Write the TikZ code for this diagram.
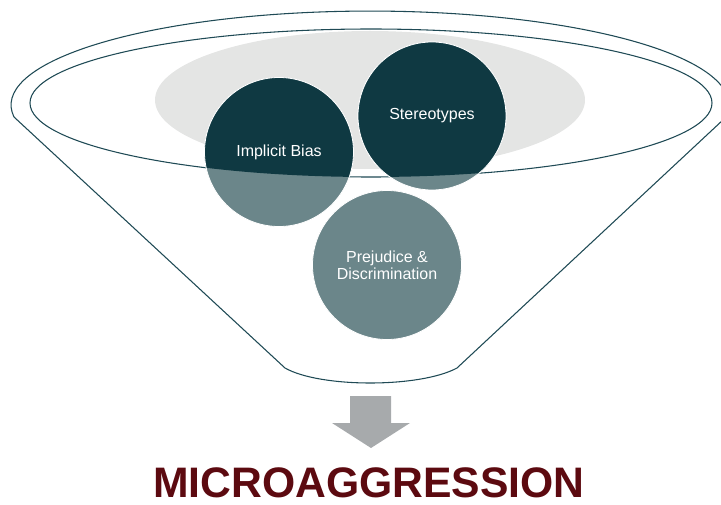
\documentclass[tikz,border=0pt]{standalone}
\usepackage{fontspec}
\setmainfont{Liberation Sans}
\usepackage{tikz}

\definecolor{rimline}{HTML}{1F4A55}
\definecolor{deepteal}{HTML}{0F3942}
\definecolor{fadeteal}{HTML}{6B868A}
\definecolor{haze}{HTML}{E4E5E4}
\definecolor{arrowgrey}{HTML}{A7AAAC}
\definecolor{wine}{HTML}{5C0A10}

\begin{document}
\begin{tikzpicture}[x=0.75pt,y=0.75pt,
    rim/.style={draw=rimline,line width=0.8pt},
    deep/.style={fill=deepteal,draw=white,line width=0.6pt},
    fade/.style={fill=fadeteal,draw=white,line width=0.6pt},
    lbl/.style={text=white,align=center,font=\fontsize{12}{13}\selectfont}]
          \useasboundingbox (0,0) rectangle (721,504);
          \coordinate (bias) at (279,352);
          \coordinate (stereo) at (432,388);
          \coordinate (prej) at (387,239);
          %% funnel
          \fill[haze] (370,404) ellipse [x radius=215, y radius=69];
          \draw[rim] (371,401) ellipse [x radius=341, y radius=74];
          \draw[rim] (14,387) arc [start angle=187.3, end angle=-7.3, x radius=359, y radius=94]
                     -- (457,136) .. controls (420,116) and (320,116) .. (285,136) -- cycle;
          %% circles, lighter below the rim
          \filldraw[fade] (bias) circle [radius=74.5];
          \filldraw[fade] (stereo) circle [radius=74];
          \filldraw[fade] (prej) circle [radius=74.5];
          \begin{scope}
            \clip (371,401) ellipse [x radius=341, y radius=74];
            \filldraw[deep] (bias) circle [radius=74.5];
            \filldraw[deep] (stereo) circle [radius=74];
          \end{scope}
          \node[lbl] (biastext) at (bias) {Implicit Bias};
          \node[lbl] (stereotext) at (stereo) {Stereotypes};
          \node[lbl] (prejtext) at (prej) {Prejudice \&\\Discrimination};
          %% arrow and result
          \fill[arrowgrey] (350,108) -- (391,108) -- (391,81) -- (410,81) -- (371,56)
                     -- (332,81) -- (350,81) -- cycle;
          \node[anchor=base,text=wine,inner sep=0pt] (result) at (369,7)
                     {\fontsize{32}{34}\selectfont\bfseries MICROAGGRESSION};
\end{tikzpicture}
\end{document}
